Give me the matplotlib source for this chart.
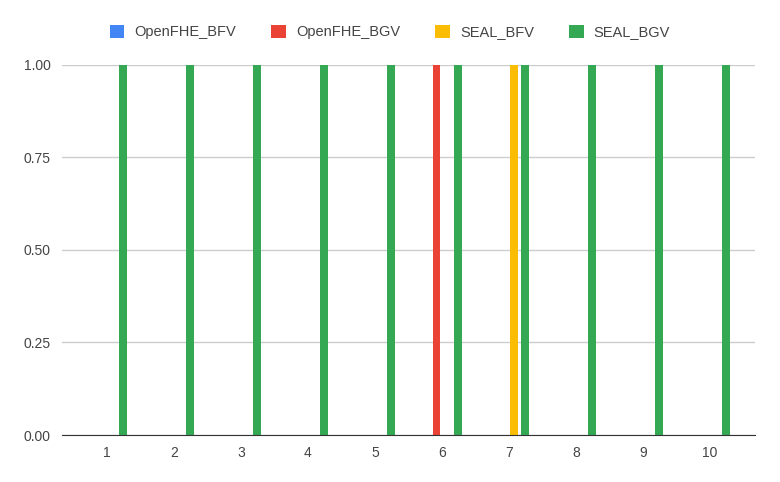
import numpy as np
import matplotlib
matplotlib.use("Agg")
import matplotlib.pyplot as plt
from matplotlib.patches import Patch

plt.rcParams["font.family"] = ["Liberation Sans", "DejaVu Sans"]

categories = [1, 2, 3, 4, 5, 6, 7, 8, 9, 10]
openfhe_bfv = [0, 0, 0, 0, 0, 0, 0, 0, 0, 0]
openfhe_bgv = [0, 0, 0, 0, 0, 1, 0, 0, 0, 0]
seal_bfv = [0, 0, 0, 0, 0, 0, 1, 0, 0, 0]
seal_bgv = [1, 1, 1, 1, 1, 1, 1, 1, 1, 1]

series = [
    ("OpenFHE_BFV", openfhe_bfv, "#4285f4"),
    ("OpenFHE_BGV", openfhe_bgv, "#ea4335"),
    ("SEAL_BFV", seal_bfv, "#fbbc04"),
    ("SEAL_BGV", seal_bgv, "#34a853"),
]

fig = plt.figure(figsize=(7.8, 4.82), dpi=100)
ax = fig.add_axes([0.0795, 0.0975, 0.888, 0.768])

x = np.arange(len(categories))
step = 0.16
width = 0.11
for i, (name, vals, color) in enumerate(series):
    ax.bar(x + (i - 1.5) * step, vals, width=width, color=color, label=name, zorder=3)

ax.set_xlim(-0.67, len(categories) - 0.33)
ax.set_ylim(0, 1)
ax.set_xticks(x)
ax.set_xticklabels([str(c) for c in categories])
ax.set_yticks([0, 0.25, 0.5, 0.75, 1.0])
ax.set_yticklabels(["0.00", "0.25", "0.50", "0.75", "1.00"])
ax.grid(axis="y", color="#cccccc", linewidth=1, zorder=0)
ax.tick_params(length=0, labelsize=10, colors="#444444", pad=8)
for s in ["top", "right", "left"]:
    ax.spines[s].set_visible(False)
ax.spines["bottom"].set_color("#333333")
ax.spines["bottom"].set_zorder(4)

handles = [Patch(facecolor=c, label=n) for n, _, c in series]
fig.legend(handles=handles, loc="center", bbox_to_anchor=(0.5, 0.934), ncol=4,
           frameon=False, fontsize=10.5, handlelength=1.0, handleheight=1.0,
           handletextpad=0.7, columnspacing=2.4, labelcolor="#444444")

fig.savefig("out.png", dpi=100)
